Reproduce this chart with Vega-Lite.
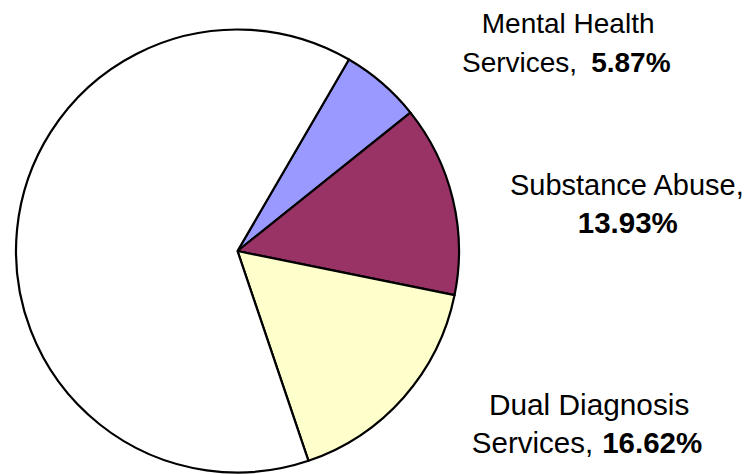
{
  "$schema": "https://vega.github.io/schema/vega-lite/v6.json",
  "width": 475,
  "height": 446,
  "autosize": {"type": "none"},
  "padding": {"left": 0, "top": 28, "right": 279, "bottom": 0},
  "background": "white",
  "view": {"stroke": null},
  "config": {"text": {"font": "Liberation Sans", "fontSize": 28, "baseline": "alphabetic", "color": "black", "radius": 221.5}},
  "data": {
    "values": [
      {"category": "Mental Health Services", "name1": "Mental Health", "name2": "Services,", "share": 0.0587, "order": 1},
      {"category": "Substance Abuse", "name1": "Substance Abuse,", "name2": "", "share": 0.1393, "order": 2},
      {"category": "Dual Diagnosis Services", "name1": "Dual Diagnosis", "name2": "Services,", "share": 0.1662, "order": 3},
      {"category": "Other", "name1": "", "name2": "", "share": 0.6358, "order": 4}
    ]
  },
  "encoding": {
    "theta": {"field": "share", "type": "quantitative", "stack": true, "scale": {"domain": [0, 1], "range": [0.5271, 6.8103]}},
    "order": {"field": "order", "type": "quantitative"}
  },
  "layer": [
    {
      "mark": {"type": "arc", "outerRadius": 221.5, "stroke": "black", "strokeWidth": 2.2, "strokeJoin": "round"},
      "encoding": {
        "color": {"field": "category", "type": "nominal", "legend": null,
          "scale": {"domain": ["Mental Health Services", "Substance Abuse", "Dual Diagnosis Services", "Other"], "range": ["#9999FF", "#993366", "#FFFFCC", "#FFFFFF"]}}
      }
    },
    {
      "mark": {"type": "text", "align": "center", "dx": 186, "dy": -50},
      "encoding": {"text": {"condition": {"test": "datum.category === 'Mental Health Services'", "field": "name1"}, "value": ""}}
    },
    {
      "mark": {"type": "text", "align": "right", "dx": 195, "dy": -11.5},
      "encoding": {"text": {"condition": {"test": "datum.category === 'Mental Health Services'", "field": "name2"}, "value": ""}}
    },
    {
      "mark": {"type": "text", "align": "left", "fontWeight": "bold", "dx": 209, "dy": -11.5},
      "encoding": {"text": {"condition": {"test": "datum.category === 'Mental Health Services'", "field": "share", "type": "quantitative", "format": ".2%"}, "value": ""}}
    },
    {
      "mark": {"type": "text", "align": "center", "fontSize": 29, "dx": 174, "dy": -4},
      "encoding": {"text": {"condition": {"test": "datum.category === 'Substance Abuse'", "field": "name1"}, "value": ""}}
    },
    {
      "mark": {"type": "text", "align": "center", "fontSize": 29.5, "fontWeight": "bold", "dx": 175, "dy": 34.4},
      "encoding": {"text": {"condition": {"test": "datum.category === 'Substance Abuse'", "field": "share", "type": "quantitative", "format": ".2%"}, "value": ""}}
    },
    {
      "mark": {"type": "text", "align": "center", "fontSize": 29.8, "dx": 185.5, "dy": 17.5},
      "encoding": {"text": {"condition": {"test": "datum.category === 'Dual Diagnosis Services'", "field": "name1"}, "value": ""}}
    },
    {
      "mark": {"type": "text", "align": "right", "fontSize": 29.5, "dx": 189.5, "dy": 55.8},
      "encoding": {"text": {"condition": {"test": "datum.category === 'Dual Diagnosis Services'", "field": "name2"}, "value": ""}}
    },
    {
      "mark": {"type": "text", "align": "left", "fontSize": 29.5, "fontWeight": "bold", "dx": 198.5, "dy": 55.8},
      "encoding": {"text": {"condition": {"test": "datum.category === 'Dual Diagnosis Services'", "field": "share", "type": "quantitative", "format": ".2%"}, "value": ""}}
    }
  ]
}
